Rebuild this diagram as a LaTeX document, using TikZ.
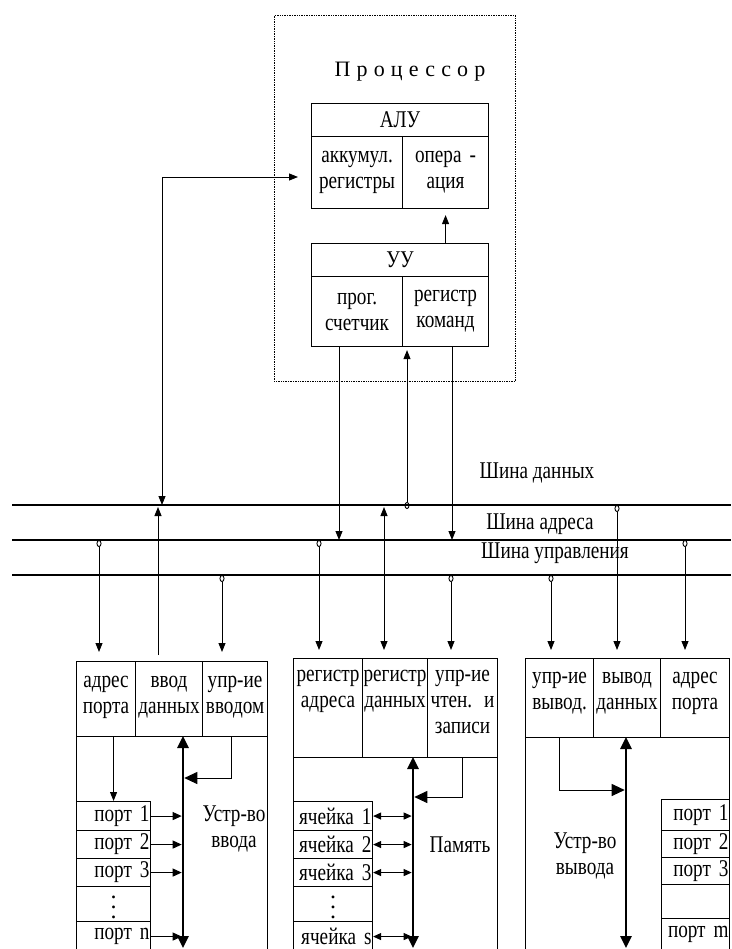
\documentclass[tikz,border=0pt]{standalone}
\usepackage{fontspec}
\setmainfont{Liberation Serif}
\newfontfamily\cond[FakeStretch=0.8]{Liberation Serif}
\newfontfamily\spaced[LetterSpace=28]{Liberation Serif}
\usetikzlibrary{arrows.meta, positioning}

\newcommand{\cellfont}{\cond\fontsize{24}{26}\selectfont}

\begin{document}
\begin{tikzpicture}[
    x=1pt, y=-1pt,
    cell/.style={draw, line width=1.1pt, inner sep=0pt, anchor=north west, align=center, font=\cellfont},
    port/.style={cell, align=right, inner xsep=1pt},
    inport/.style={port, text width=72},
    memcell/.style={port, text width=77},
    outport/.style={port, text width=66},
    dots/.style={inner sep=0pt, align=center, font=\fontsize{24}{10}\selectfont},
    proc/.style={draw, densely dotted, line width=0.7pt, inner sep=0pt, anchor=north west},
    lbl/.style={inner sep=0pt, align=center, font=\cellfont},
    bus/.style={line width=1.3pt},
    arrow/.style={line width=0.9pt, -{Triangle[length=9pt, width=7pt]}},
    biarrow/.style={line width=0.9pt, {Triangle[length=9pt, width=7pt]}-{Triangle[length=9pt, width=7pt]}},
    tap/.style={line width=0.9pt, {Circle[open, length=7pt, width=5pt]}-{Triangle[length=9pt, width=7pt]}},
    portarrow/.style={line width=1pt, -{Triangle[length=9pt, width=8pt]}},
    cellarrow/.style={line width=1pt, {Triangle[length=8pt, width=7pt]}-{Triangle[length=8pt, width=7pt]}},
    ctlarrow/.style={line width=1pt, -{Triangle[length=13pt, width=12pt]}},
    thickbus/.style={line width=2.6pt, {Triangle[length=12pt, width=11pt]}-{Triangle[length=12pt, width=11pt]}}
]
\useasboundingbox (0,0) rectangle (731,949);

% Processor
\node[proc, minimum width=241, minimum height=366] (proc) at (274,15) {};
\node[font=\spaced\fontsize{22}{26}\selectfont] (ptitle) at (410,72) {Процессор};
\node[cell, text width=177, minimum height=33] (alu) at (311,103) {АЛУ};
\node[cell, text width=91, minimum height=72] (acc) at (311,136) {аккумул.\\регистры};
\node[cell, text width=86, minimum height=72] (oper) at (402,136) {опера -\\ация};
\node[cell, text width=177, minimum height=33] (cu) at (311,243) {УУ};
\node[cell, text width=91, minimum height=70] (pc) at (311,276) {прог.\\счетчик};
\node[cell, text width=86, minimum height=70] (ir) at (402,276) {регистр\\команд};

% Buses
\coordinate (dbL) at (12,505);  \coordinate (dbR) at (731,505);
\coordinate (abL) at (12,540);  \coordinate (abR) at (731,540);
\coordinate (cbL) at (12,575);  \coordinate (cbR) at (731,575);
\draw[bus] (dbL) -- (dbR);
\draw[bus] (abL) -- (abR);
\draw[bus] (cbL) -- (cbR);
\node[lbl] (dblbl) at (537,473) {Шина данных};
\node[lbl] (ablbl) at (540,524) {Шина адреса};
\node[lbl] (cblbl) at (555,553) {Шина управления};

% Input device
\node[cell, minimum width=191, minimum height=300] (indev) at (76,661) {};
\node[cell, text width=59, minimum height=75, text depth=34pt] (inadr) at (76,661) {адрес\\порта};
\node[cell, text width=67, minimum height=75, text depth=34pt] (indat) at (135,661) {ввод\\данных};
\node[cell, text width=65, minimum height=75, text depth=34pt] (inctl) at (202,661) {упр-ие\\вводом};
\node[inport, minimum height=29] (inp1) at (76,801) {порт 1};
\node[inport, minimum height=28] (inp2) at (76,830) {порт 2};
\node[inport, minimum height=28] (inp3) at (76,858) {порт 3};
\node[cell, minimum width=74, minimum height=35] (inpd) at (76,886) {};
\node[dots] (inpdots) at ([yshift=-3pt]inpd.center) {.\\.\\.};
\node[inport, minimum height=30] (inpn) at (76,921) {порт n};
\node[lbl] (inlbl) at (234,829) {Устр-во\\ввода};

% Memory
\node[cell, minimum width=204, minimum height=300] (mem) at (293,658) {};
\node[cell, text width=69, minimum height=99, text depth=65pt] (memadr) at (293,658) {регистр\\адреса};
\node[cell, text width=65, minimum height=99, text depth=65pt] (memdat) at (362,658) {регистр\\данных};
\node[cell, text width=70, minimum height=99, text depth=65pt] (memctl) at (427,658) {упр-ие\\чтен. и\\записи};
\node[memcell, minimum height=29] (cell1) at (293,801) {ячейка 1};
\node[memcell, minimum height=28] (cell2) at (293,830) {ячейка 2};
\node[memcell, minimum height=28] (cell3) at (293,858) {ячейка 3};
\node[cell, minimum width=79, minimum height=35] (celld) at (293,886) {};
\node[dots] (celldots) at ([yshift=-3pt]celld.center) {.\\.\\.};
\node[memcell, minimum height=30] (cells) at (293,921) {ячейка s};
\node[lbl] (memlbl) at (460,845) {Память};

% Output device
\node[cell, minimum width=204, minimum height=300] (outdev) at (525,658) {};
\node[cell, text width=68, minimum height=79, text depth=40pt] (outctl) at (525,658) {упр-ие\\вывод.};
\node[cell, text width=67, minimum height=79, text depth=40pt] (outdat) at (593,658) {вывод\\данных};
\node[cell, text width=69, minimum height=79, text depth=40pt] (outadr) at (660,658) {адрес\\порта};
\node[outport, minimum height=31] (outp1) at (661,799) {порт 1};
\node[outport, minimum height=27] (outp2) at (661,830) {порт 2};
\node[outport, minimum height=27] (outp3) at (661,857) {порт 3};
\node[outport, minimum height=34] (outpe) at (661,884) {};
\node[outport, minimum height=32] (outpm) at (661,918) {порт m};
\node[lbl] (outlbl) at (585,856) {Устр-во\\вывода};

% Processor links
\coordinate (aluBus) at (162,505);
\coordinate (aluBend) at (162,177);
\draw[biarrow, shorten >=13pt] (aluBus) -- (aluBend) -- (aluBend -| acc.west);
\draw[arrow, shorten >=6pt] (oper.south |- cu.north) -- (oper.south);
\coordinate (pcBus) at (339,540);
\draw[arrow] (pcBus |- pc.south) -- (pcBus);
\coordinate (cuBus) at (407,505);
\draw[tap, shorten <=-4pt, shorten >=3pt] (cuBus) -- (cuBus |- pc.south);
\coordinate (irBus) at (452,540);
\draw[arrow] (irBus |- ir.south) -- (irBus);

% Input device links
\coordinate (inA) at (99,540);
\draw[tap, shorten >=9pt] (inA) -- (inA |- inadr.north);
\coordinate (inD) at (158,505);
\draw[arrow, shorten <=6pt, shorten >=2pt] (inD |- indat.north) -- (inD);
\coordinate (inC) at (222,575);
\draw[tap, shorten >=9pt] (inC) -- (inC |- inctl.north);
\coordinate (inBusTop) at (183,736);
\coordinate (inBusBot) at (183,948);
\draw[thickbus] (inBusTop) -- (inBusBot);
\draw[arrow] (inp1.north |- inadr.south) -- (inp1.north);
\coordinate (inBend) at (231,778);
\draw[ctlarrow, shorten >=1.3pt] (inBend |- inctl.south) -- (inBend) -- (inBend -| inBusTop);
\foreach \p in {inp1, inp2, inp3, inpn}
  \draw[portarrow, shorten >=1.3pt] (\p.east) -- (\p.east -| inBusTop);

% Memory links
\coordinate (memA) at (319,540);
\draw[tap, shorten >=8pt] (memA) -- (memA |- memadr.north);
\coordinate (memD) at (384,505);
\draw[biarrow, shorten <=2pt, shorten >=8pt] (memD) -- (memD |- memdat.north);
\coordinate (memC) at (451,575);
\draw[tap, shorten >=8pt] (memC) -- (memC |- memctl.north);
\coordinate (memBusTop) at (413,757);
\coordinate (memBusBot) at (413,948);
\draw[thickbus] (memBusTop) -- (memBusBot);
\coordinate (memBend) at (462,797);
\draw[ctlarrow, shorten >=1.3pt] (memBend |- memctl.south) -- (memBend) -- (memBend -| memBusTop);
\foreach \c in {cell1, cell2, cell3, cells}
  \draw[cellarrow, shorten >=1.3pt] (\c.east) -- (\c.east -| memBusTop);

% Output device links
\coordinate (outC) at (551,575);
\draw[tap, shorten >=8pt] (outC) -- (outC |- outctl.north);
\coordinate (outD) at (617,505);
\draw[tap, shorten >=8pt] (outD) -- (outD |- outdat.north);
\coordinate (outA) at (685,540);
\draw[tap, shorten >=8pt] (outA) -- (outA |- outadr.north);
\coordinate (outBusTop) at (626,737);
\coordinate (outBusBot) at (626,948);
\draw[thickbus] (outBusTop) -- (outBusBot);
\coordinate (outBend) at (559,790);
\draw[ctlarrow, shorten >=1.3pt] (outBend |- outctl.south) -- (outBend) -- (outBend -| outBusTop);

\end{tikzpicture}
\end{document}
